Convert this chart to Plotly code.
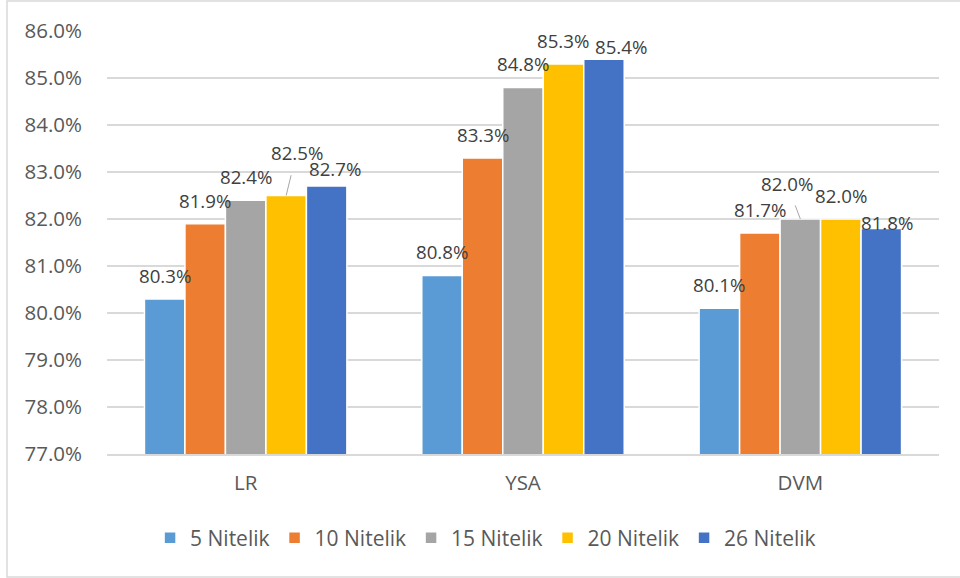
import plotly.graph_objects as go

# Accuracy (%) of each model for different feature-subset sizes
categories = ["LR", "YSA", "DVM"]
series_names = ["5 Nitelik", "10 Nitelik", "15 Nitelik", "20 Nitelik", "26 Nitelik"]
acc_5 = [80.3, 80.8, 80.1]
acc_10 = [81.9, 83.3, 81.7]
acc_15 = [82.4, 84.8, 82.0]
acc_20 = [82.5, 85.3, 82.0]
acc_26 = [82.7, 85.4, 81.8]
y_ticks = [77, 78, 79, 80, 81, 82, 83, 84, 85, 86]
y_tick_labels = [f"{t:.1f}%" for t in y_ticks]

series_values = [acc_5, acc_10, acc_15, acc_20, acc_26]
colors = ["#5B9BD5", "#ED7D31", "#A5A5A5", "#FFC000", "#4472C4"]

FONT = "Open Sans"
BARGAP = 0.27
slot = (1 - BARGAP) / len(series_names)

# Manual label placement tweaks: (category idx, series idx) -> (dx px, extra lift px, leader line)
label_nudge = {
    (0, 3): (10.5, 19.5, True),
    (0, 4): (8, -5.5, False),
    (1, 4): (17.5, -10.5, False),
    (2, 2): (-13.5, 12.5, True),
    (2, 4): (5.5, -17.5, False),
}
LIFT = 23.5

fig = go.Figure()
for name, vals, color in zip(series_names, series_values, colors):
    fig.add_trace(go.Bar(
        name=name, x=categories, y=vals,
        marker=dict(color=color, line=dict(color="white", width=1.5)),
        hovertemplate="%{x}: %{y:.1f}%<extra>" + name + "</extra>",
    ))

n = len(series_names)
for si, vals in enumerate(series_values):
    for ci, v in enumerate(vals):
        xpos = ci + (si - (n - 1) / 2) * slot
        dx, extra, leader = label_nudge.get((ci, si), (0, 0, False))
        text = f"{v:.1f}%"
        font = dict(family=FONT, size=18.7, color="#404040")
        if leader:
            fig.add_annotation(
                x=xpos, y=v, xref="x", yref="y", text=text, font=font,
                showarrow=True, arrowhead=0, arrowwidth=1, arrowcolor="#A6A6A6",
                ax=dx, ay=-(LIFT + extra), axref="pixel", ayref="pixel",
                startstandoff=9,
            )
        else:
            fig.add_annotation(
                x=xpos, y=v, xref="x", yref="y", text=text, font=font,
                showarrow=False, yanchor="middle",
                xshift=dx, yshift=LIFT + extra,
            )

# Outer chart frame
fig.add_shape(type="rect", xref="paper", yref="paper",
              x0=-0.1202, x1=1.2, y0=-0.2908, y1=1.071,
              line=dict(color="#D9D9D9", width=1.5), fillcolor="rgba(0,0,0,0)",
              layer="below")

fig.update_layout(
    width=960, height=578,
    margin=dict(l=107, r=21, t=31, b=124),
    paper_bgcolor="white", plot_bgcolor="white",
    barmode="group", bargap=BARGAP, bargroupgap=0,
    font=dict(family=FONT, color="#595959"),
    showlegend=True,
    legend=dict(
        orientation="h", x=0.455, xanchor="center", y=-0.1986, yanchor="middle",
        font=dict(family=FONT, size=21, color="#595959"),
        traceorder="normal", itemclick=False, itemdoubleclick=False,
    ),
    xaxis=dict(
        showline=True, linecolor="#D9D9D9", linewidth=1.5,
        tickfont=dict(family=FONT, size=20.5, color="#595959"),
        ticks="", ticklabelstandoff=10, showgrid=False,
    ),
    yaxis=dict(
        range=[77, 86], tickvals=y_ticks, ticktext=y_tick_labels,
        gridcolor="#D9D9D9", gridwidth=1.5, zeroline=False, showline=False,
        tickfont=dict(family=FONT, size=20.5, color="#595959"),
        ticks="", ticklabelstandoff=24,
    ),
)

fig.write_html("out.html")
